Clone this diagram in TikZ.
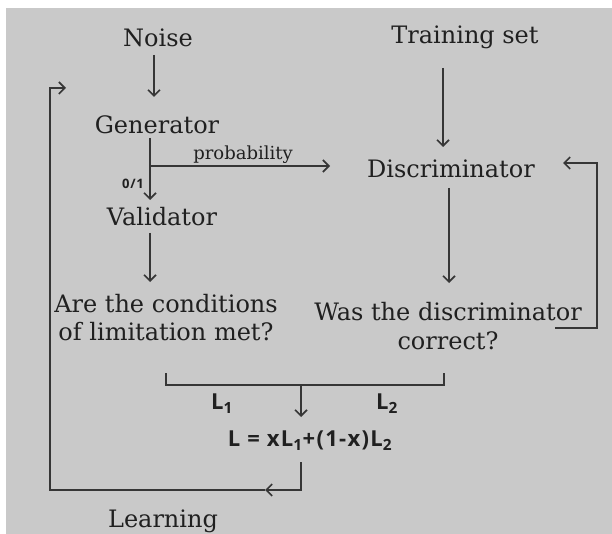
\documentclass[tikz,border=0pt]{standalone}
\usepackage{fontspec}
\setmainfont{DejaVu Serif}
\newfontfamily\formfont[LetterSpace=6]{Open Sans}
\usepackage{tikz}
\usetikzlibrary{arrows.meta, calc}

\definecolor{panel}{RGB}{201,201,201}
\definecolor{ink}{RGB}{32,32,32}

\tikzset{
	lbl/.style={inner sep=0pt, text=ink, align=center,
		font=\fontsize{24}{28}\selectfont},
	small/.style={inner sep=0pt, text=ink, font=\fontsize{18}{20}\selectfont},
	form/.style={inner sep=0pt, text=ink,
		font=\formfont\bfseries\fontsize{22}{24}\selectfont},
	wire/.style={draw=ink!90, line width=1.8pt},
	arr/.style={wire, -{Straight Barb[length=6pt,width=12pt,line width=1.6pt]}},
}

\begin{document}
\begin{tikzpicture}[x=1pt, y=-1pt]
	\useasboundingbox (0,0) rectangle (612,534);
	\fill[panel] (6,8) rectangle (612,534);

	% blocks
	\node[lbl] (noise) at (158,38)  {Noise};
	\node[lbl] (train) at (465,37)  {Training set};
	\node[lbl] (gen)   at (157,125) {Generator};
	\node[lbl] (disc)  at (451,169) {Discriminator};
	\node[lbl] (val)   at (162,217) {Validator};
	\node[lbl] (cond)  at (166,318) {Are the conditions\\of limitation met?};
	\node[lbl, font=\fontsize{24}{29}\selectfont]
		(was) at (448,326) {Was the discriminator\\correct?};
	\node[form] (loss) at (310,441)
		{L = xL\textsubscript{1}+(1-x)L\textsubscript{2}};
	\node[lbl] (learn) at (163,521) {Learning};

	% small labels
	\node[small] (prob) at (243,155) {probability};
	\node[form, font=\formfont\bfseries\fontsize{13}{15}\selectfont]
		(zo) at (133,184) {0/1};
	\node[form] (lone) at (222,404) {L\textsubscript{1}};
	\node[form] (ltwo) at (387,404) {L\textsubscript{2}};

	\coordinate (split)   at (150,166);
	\coordinate (rcorner) at (597,163);
	\coordinate (bl)      at (166,385);
	\coordinate (br)      at (444,385);
	\coordinate (bmid)    at (301,385);
	\coordinate (back)    at (265,490);
	\coordinate (lcorner) at (50,88);
	\coordinate (ltip)    at (66,88);

	\draw[arr, shorten <=17pt, shorten >=28pt]
		([xshift=-4pt]noise.center) -- ([xshift=-4pt]noise.center |- gen.center);
	\draw[arr, shorten <=13pt, shorten >=17pt] (gen -| split) -- (val -| split);
	\draw[arr, shorten >=121pt] (split) -- (split -| disc.center);
	\draw[arr, shorten <=16pt, shorten >=36pt] (val -| split) -- (cond -| split);
	\draw[arr, shorten <=31pt, shorten >=22pt]
		([xshift=-8pt]disc.center |- train.center) -- ([xshift=-8pt]disc.center);
	\draw[arr, shorten <=19pt, shorten >=43pt]
		([xshift=-2pt]disc.center) -- ([xshift=-2pt]disc.center |- was.center);
	\draw[arr, shorten >=112pt]
		([xshift=107pt, yshift=-2pt]was.center) -| (rcorner) -- (rcorner -| disc.center);

	% loss bracket
	\draw[wire] (bl) ++(0,-12) -- (bl) -- (br) -- ++(0,-12);
	\draw[arr, shorten >=24pt] (bmid) -- (bmid |- loss.center);
	\draw[arr, shorten <=21pt] (loss.center -| bmid) |- (back);
	\draw[arr] (back) -| (lcorner) -- (ltip);
\end{tikzpicture}
\end{document}
